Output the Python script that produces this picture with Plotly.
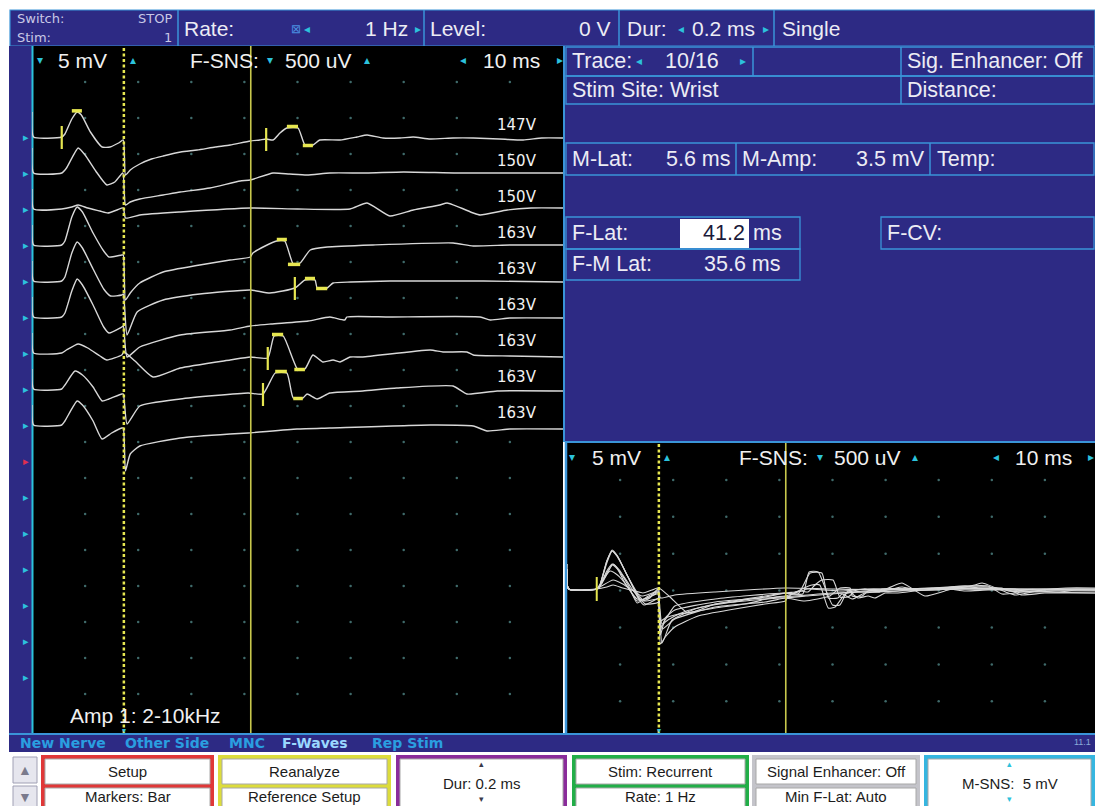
import numpy as np
import plotly.graph_objects as go

W, H = 1095, 806

# ------------------------------------------------------------------ data
STIM_VOLTAGES = ["147V", "150V", "150V", "163V", "163V", "163V", "163V", "163V", "163V"]

# per-trace waveform: time (ms) and displayed amplitude (screen units above own baseline)
T1_T = [0, 0.3, 5.6, 6.2, 7.5, 8.5, 9.3, 11.0, 13.2, 14.7, 16.3, 17.2, 17.6, 18.5, 20.3, 22.5, 24.7, 28.0, 31.1, 34.5,
        37.3, 41.1, 42.9, 44.1, 45.4, 46.7, 48.0, 50.1, 51.4, 52.9, 54.2, 58.0, 61.2, 63.1, 66.1, 69.3, 71.8, 75.0, 79.3, 83.1,
        88.0, 92.5, 96.0, 100]
T1_A = [25, 0, 0, 3, 18, 25, 22, 5, -10, -10, -6, -3, -38, -33, -27, -22, -19, -15, -13, -10,
        -8, -4, -3, -2, -3, 4, 9, 9, -8, -8, -3, -3, 0, 2, -1, -1, 0, -2, -1, -1,
        -2, -3, -1, -1]
T2_T = [0, 0.3, 5.6, 6.5, 8.7, 10.0, 12.0, 14.1, 15.6, 17.1, 17.6, 18.5, 20.3, 24.7, 27.9, 33.5, 39.2, 41.1, 45.4, 48.5,
        51.8, 56.1, 63.0, 70.0, 80.0, 90.0, 100]
T2_A = [25, 0, 0, 5, 25, 18, 2, -12, -9, 0, -32, -29, -26, -22, -19, -15, -8, -7, 0, -1,
        -2, 0, 0, 1, 0, 0, 0]
T3_T = [0, 0.3, 5.6, 7.5, 8.7, 10.5, 12.8, 14.3, 16.0, 17.2, 17.6, 20.3, 27.9, 41.1, 50.0, 59.9, 63.1, 67.4, 71.8, 76.8,
        78.2, 83.1, 84.4, 89.5, 94.0, 100]
T3_A = [20, 0, 0, 2, 4, 1, -2, -4, -1, 1, -9, -6, -3, 1, 0, 0, 6, -7, -1, 4,
        6, -4, -6, -1, 1, 1]
T4_T = [0, 0.3, 5.6, 6.2, 7.5, 8.5, 9.5, 11.5, 13.5, 14.5, 16.9, 17.2, 17.6, 18.5, 20.3, 24.7, 31.6, 37.3, 41.1, 41.6,
        43.9, 46.1, 47.6, 49.2, 50.5, 52.4, 55.6, 64.2, 79.3, 83.1, 90.0, 100]
T4_A = [20, 0, 0, 4, 28, 38, 33, 12, -6, -12, -10, -10, -55, -48, -38, -27, -20, -15, -12, -8,
        -1, 4, 4, -19, -18, -5, -2, 0, 2, -1, 0, 0]
T5_T = [0, 0.3, 5.6, 6.2, 7.5, 8.5, 9.5, 11.5, 13.5, 14.8, 16.9, 17.2, 17.9, 19.8, 24.7, 31.6, 41.1, 44.8, 49.5, 51.4,
        53.3, 53.7, 55.6, 56.7, 60.0, 67.4, 75.0, 85.0, 100]
T5_A = [20, 0, 0, 4, 28, 39, 33, 12, -8, -15, -14, -13, -54, -31, -19, -13, -9, -12, -7, 1,
        1, -7, -7, -2, -1, 0, 0, 0, -1]
T6_T = [0, 0.3, 5.6, 6.2, 7.5, 8.5, 9.5, 11.5, 13.5, 14.5, 16.9, 17.2, 17.9, 20.3, 27.9, 37.3, 41.1, 45.0, 52.0, 56.1,
        58.9, 59.3, 67.4, 84.4, 86.3, 90.0, 100]
T6_A = [20, 0, 0, 4, 26, 38, 32, 12, -10, -16, -10, -9, -40, -30, -18, -13, -9, -7, -4, 0,
        -3, 0, 0, 0, -3, -1, -1]
T7_T = [0, 0.3, 5.6, 6.5, 8.7, 10.5, 12.8, 14.1, 16.9, 17.3, 19.4, 22.8, 27.9, 37.3, 41.1, 44.4, 45.6, 47.3, 50.0, 51.4,
        52.9, 54.8, 56.7, 58.0, 59.9, 62.3, 75.0, 77.4, 81.9, 83.1, 90.0, 100]
T7_A = [20, 0, 0, 3, 9, 5, -3, -7, -2, 1, -8, -24, -15, -7, -4, -5, 17, 17, -16, -16,
        -2, -9, -7, -9, -4, -4, 3, 1, 1, -2, -3, -4]
T8_T = [0, 0.3, 5.6, 6.2, 8.1, 9.5, 11.5, 13.2, 14.5, 16.9, 17.2, 17.9, 20.3, 27.9, 40.7, 43.5, 45.8, 48.0, 49.2, 51.0,
        51.8, 53.7, 56.1, 62.3, 68.7, 79.3, 81.9, 87.6, 100]
T8_A = [20, 0, 0, 4, 18, 14, 2, -12, -10, -5, -5, -35, -17, -10, -4, -5, 16, 16, -9, -9,
        -5, -10, -4, -2, 1, 3, -5, -2, -2]
T9_T = [0, 0.3, 5.6, 6.2, 8.5, 9.5, 11.5, 13.2, 15.0, 16.9, 17.2, 17.6, 18.5, 20.3, 27.9, 37.3, 40.7, 49.9, 56.1, 75.0,
        83.1, 85.7, 90.0, 100]
T9_A = [20, 0, 0, 4, 24, 20, 4, -14, -8, -3, -3, -46, -29, -21, -13, -9, -8, -4, -3, 0,
        -1, -6, -4, -4]

TRACE_T = [T1_T, T2_T, T3_T, T4_T, T5_T, T6_T, T7_T, T8_T, T9_T]
TRACE_A = [T1_A, T2_A, T3_A, T4_A, T5_A, T6_A, T7_A, T8_A, T9_A]

# latency markers: trace index, kind, start/end time (ms)
MARK_TRACE = [0, 0, 0, 0, 0, 3, 3, 4, 4, 4, 6, 6, 6, 7, 7, 7]
MARK_KIND = ["tick", "bar", "tick", "bar", "bar", "bar", "bar", "tick", "bar", "bar",
             "tick", "bar", "bar", "tick", "bar", "bar"]
MARK_T0 = [5.6, 7.5, 44.1, 48.0, 51.0, 46.1, 48.2, 49.5, 51.4, 53.5, 44.4, 45.2, 49.4, 43.5, 45.8, 49.2]
MARK_T1 = [5.6, 9.4, 44.1, 50.1, 52.9, 48.0, 50.5, 49.5, 53.3, 55.6, 44.4, 47.3, 51.4, 43.5, 48.0, 51.0]

M_LAT_MS = 5.6
M_AMP_MV = 3.5
F_LAT_MS = 41.2
FM_LAT_MS = 35.6
CURSOR_MS = 17.3
SWEEP_MS = 100
N_TRACES_TOTAL = 16
CUR_TRACE = 10

# ------------------------------------------------------------------ style
FONT = "Liberation Sans, Arial, sans-serif"
DV = "DejaVu Sans, sans-serif"
BLUE = "#2d2a84"
CELL = "#3a94d8"
TXT = "#ececf4"
CYAN = "#2cc2dc"
TRACE_COL = "#d8d8d8"
YEL = "#e6e650"
OLIVE = "#c8c84c"
DOT = "#3f6a6a"

shapes, annos = [], []


def X(x):
    return x / W


def Y(y):
    return 1 - y / H


def rect(x0, y0, x1, y1, fill=None, line=None, lw=0):
    shapes.append(dict(type="rect", xref="paper", yref="paper", x0=X(x0), x1=X(x1), y0=Y(y1), y1=Y(y0),
                       fillcolor=fill or "rgba(0,0,0,0)",
                       line=dict(color=line or "rgba(0,0,0,0)", width=lw), layer="below"))


def seg(x0, y0, x1, y1, color=CELL, lw=1.5):
    shapes.append(dict(type="line", xref="paper", yref="paper", x0=X(x0), x1=X(x1), y0=Y(y0), y1=Y(y1),
                       line=dict(color=color, width=lw), layer="below"))


def txt(x, y, s, size=20, color=TXT, anchor="left", family=FONT):
    annos.append(dict(x=X(x), y=Y(y), xref="paper", yref="paper", text=s, showarrow=False,
                      xanchor=anchor, yanchor="middle", font=dict(size=size, color=color, family=family)))


# ------------------------------------------------------------------ panels
rect(10, 10, 1095, 46, BLUE, CELL, 1.2)
for xv in [178, 424, 619, 774]:
    seg(xv, 10, xv, 46)
rect(9, 46, 32, 733, BLUE)
rect(32, 46, 563, 733, "#000000")
seg(32.5, 46, 32.5, 733, CYAN, 2)
rect(563, 46, 1095, 442, BLUE)
seg(564, 46, 564, 442, CELL, 2)
# info cells
rect(566, 47, 1094, 76, None, CELL, 1.3)
rect(566, 76, 1094, 104, None, CELL, 1.3)
seg(753, 47, 753, 76)
seg(901, 47, 901, 104)
rect(566, 143, 1094, 175, None, CELL, 1.3)
seg(736, 143, 736, 175)
seg(930, 143, 930, 175)
rect(566, 217, 800, 249, None, CELL, 1.3)
rect(566, 249, 800, 280, None, CELL, 1.3)
rect(680, 219, 749, 248, "#ffffff")
rect(881, 217, 1094, 249, None, CELL, 1.3)
# inset
rect(567, 443, 1095, 733, "#000000")
seg(565, 442, 1095, 442, CELL, 2)
seg(566, 442, 566, 733, CELL, 2.5)
# bottom strip
rect(9, 733, 1095, 752, BLUE)
seg(9, 734, 1095, 734, CELL, 2)

# buttons
rect(13, 757, 37, 783, "#e6e6ee", "#a0a0b4", 1)
rect(13, 786, 37, 812, "#e6e6ee", "#a0a0b4", 1)
txt(25, 770, "▲", 14, "#7a7a8c", "center")
txt(25, 797, "▼", 14, "#7a7a8c", "center")
GROUPS = [(41, 214, "#e03838", ["Setup", "Markers: Bar"]),
          (218, 391, "#dcdc3c", ["Reanalyze", "Reference Setup"]),
          (396, 567, "#8a2c9a", ["Dur: 0.2 ms"]),
          (572, 749, "#22ae48", ["Stim: Recurrent", "Rate: 1 Hz"]),
          (752, 920, "#c4c4ca", ["Signal Enhancer: Off", "Min F-Lat: Auto"]),
          (924, 1095, "#36b6e0", ["M-SNS:  5 mV"])]
for x0, x1, col, labels in GROUPS:
    rect(x0, 755, x1, 812, col)
    cx = (x0 + x1) / 2
    if len(labels) == 2:
        rect(x0 + 4, 759, x1 - 4, 784, "#ffffff", "#a8a8a8", 1)
        rect(x0 + 4, 788, x1 - 4, 812, "#ffffff", "#a8a8a8", 1)
        txt(cx, 771, labels[0], 15, "#1c1c1c", "center")
        txt(cx, 796, labels[1], 15, "#1c1c1c", "center")
    else:
        rect(x0 + 4, 759, x1 - 4, 812, "#ffffff", "#a8a8a8", 1)
        txt(cx, 783, labels[0], 15, "#1c1c1c", "center")
        tc = "#3a3a4a" if col != "#36b6e0" else CYAN
        txt(cx, 764, "▴", 9, tc, "center")
        txt(cx, 799, "▾", 9, tc, "center")

# ------------------------------------------------------------------ texts
# top bar
txt(15, 19, "Switch:", 13, "#c8c8e6", family=DV)
txt(15, 37, "Stim:", 13, "#c8c8e6", family=DV)
txt(174, 19, "STOP", 13, "#c8c8e6", "right", family=DV)
txt(174, 37, "1", 13, "#c8c8e6", "right", family=DV)
txt(182, 29, "Rate:", 21)
txt(296, 29, "⊠", 12, "#4a8ee0", "center")
txt(307, 29, "◂", 12, CYAN, "center")
txt(410, 29, "1 Hz", 21, anchor="right")
txt(418, 29, "▸", 12, CYAN, "center")
txt(428, 29, "Level:", 21)
txt(613, 29, "0 V", 21, anchor="right")
txt(625, 29, "Dur:", 21)
txt(681, 29, "◂", 12, CYAN, "center")
txt(690, 29, "0.2 ms", 21)
txt(766, 29, "▸", 12, CYAN, "center")
txt(780, 29, "Single", 21)

# main header
txt(40, 60, "▾", 12, CYAN, "center")
txt(56, 60, "5 mV", 21, "#f0f0f0")
txt(133, 60, "▴", 12, CYAN, "center")
txt(188, 60, "F-SNS:", 21, "#f0f0f0")
txt(270, 60, "▾", 12, CYAN, "center")
txt(283, 60, "500 uV", 21, "#f0f0f0")
txt(367, 60, "▴", 12, CYAN, "center")
txt(463, 60, "◂", 12, CYAN, "center")
txt(481, 60, "10 ms", 21, "#f0f0f0")
txt(560, 60, "▸", 12, CYAN, "center")
txt(68, 715, "Amp 1: 2-10kHz", 21, "#f0f0f0")

# inset header
txt(572, 457, "▾", 12, CYAN, "center")
txt(590, 457, "5 mV", 21, "#f0f0f0")
txt(667, 457, "▴", 12, CYAN, "center")
txt(737, 457, "F-SNS:", 21, "#f0f0f0")
txt(820, 457, "▾", 12, CYAN, "center")
txt(832, 457, "500 uV", 21, "#f0f0f0")
txt(915, 457, "▴", 12, CYAN, "center")
txt(996, 457, "◂", 12, CYAN, "center")
txt(1013, 457, "10 ms", 21, "#f0f0f0")
txt(1091, 457, "▸", 12, CYAN, "center")

# info panel
RS = 21.5
txt(570, 61, "Trace:", RS)
txt(639, 61, "◂", 12, CYAN, "center")
txt(663, 61, f"{CUR_TRACE}/{N_TRACES_TOTAL}", RS)
txt(743, 61, "▸", 12, CYAN, "center")
txt(905, 61, "Sig. Enhancer: Off", RS)
txt(570, 90, "Stim Site: Wrist", RS)
txt(905, 90, "Distance:", RS)
txt(570, 159, "M-Lat:", RS)
txt(733, 159, f"{M_LAT_MS:.1f} ms", RS, anchor="right")
txt(740, 159, "M-Amp:", RS)
txt(927, 159, f"{M_AMP_MV:.1f} mV", RS, anchor="right")
txt(935, 159, "Temp:", RS)
txt(570, 233, "F-Lat:", RS)
txt(747, 233, f"{F_LAT_MS:.1f}", RS, "#1a1a3a", "right")
txt(751, 233, "ms", RS)
txt(885, 233, "F-CV:", RS)
txt(570, 264, "F-M Lat:", RS)
txt(782, 264, f"{FM_LAT_MS:.1f} ms", RS, anchor="right")

# bottom strip
txt(18, 743, "<b>New Nerve</b>", 14, "#2a9ee0", family=DV)
txt(123, 743, "<b>Other Side</b>", 14, "#2a9ee0", family=DV)
txt(227, 743, "<b>MNC</b>", 14, "#2a9ee0", family=DV)
txt(280, 743, "<b>F-Waves</b>", 14, "#9ad8ff", family=DV)
txt(370, 743, "<b>Rep Stim</b>", 14, "#2a9ee0", family=DV)
txt(1093, 742, "11.1", 9, "#8aaad8", "right")

# trace slot triangles in left column
SLOT = 36
for k in range(N_TRACES_TOTAL):
    col = "#e03050" if k == CUR_TRACE - 1 else CYAN
    txt(26, 137 + SLOT * k, "▸", 11, col, "center")

# ------------------------------------------------------------------ figure
fig = go.Figure()
MAIN_H = 687           # screen units of main panel height
BASE0 = 596            # baseline of first trace
INSET_LO, INSET_HI = -144, 146

# grid dots
gx = np.arange(10, SWEEP_MS, 10)
gy = MAIN_H - SLOT * np.arange(1, 19)
GX, GY = np.meshgrid(gx, gy)
fig.add_trace(go.Scatter(x=GX.ravel(), y=GY.ravel(), xaxis="x", yaxis="y", mode="markers",
                         marker=dict(size=2.5, color=DOT), hoverinfo="skip"))
igy = INSET_HI - 36.9 * np.arange(1, 8)
IGX, IGY = np.meshgrid(gx, igy)
fig.add_trace(go.Scatter(x=IGX.ravel(), y=IGY.ravel(), xaxis="x2", yaxis="y2", mode="markers",
                         marker=dict(size=2.5, color=DOT), hoverinfo="skip"))

# waveforms
for i, (tt, aa) in enumerate(zip(TRACE_T, TRACE_A)):
    base = BASE0 - SLOT * i
    fig.add_trace(go.Scatter(x=tt, y=np.array(aa) + base, xaxis="x", yaxis="y", mode="lines",
                             line=dict(color=TRACE_COL, width=1.4, shape="spline", smoothing=0.5),
                             hoverinfo="skip"))
    fig.add_trace(go.Scatter(x=tt, y=aa, xaxis="x2", yaxis="y2", mode="lines",
                             line=dict(color=TRACE_COL, width=1.1, shape="spline", smoothing=0.5),
                             hoverinfo="skip"))
    annos.append(dict(x=91.4, y=base + 12, xref="x", yref="y", text=STIM_VOLTAGES[i], showarrow=False,
                      xanchor="center", yanchor="middle",
                      font=dict(size=15, color="#f2f2f2", family=DV)))

# cursors
for ax, ay, lo, hi in [("x", "y", 0, MAIN_H), ("x2", "y2", INSET_LO, INSET_HI)]:
    fig.add_trace(go.Scatter(x=[CURSOR_MS, CURSOR_MS], y=[lo, hi], xaxis=ax, yaxis=ay, mode="lines",
                             line=dict(color=YEL, width=2.5, dash="3px,2.5px"), hoverinfo="skip"))
    fig.add_trace(go.Scatter(x=[F_LAT_MS, F_LAT_MS], y=[lo, hi], xaxis=ax, yaxis=ay, mode="lines",
                             line=dict(color=OLIVE, width=1.6), hoverinfo="skip"))
txt(124, 730, "▾", 8, CYAN, "center")
txt(659, 730, "▾", 8, CYAN, "center")

# latency markers
ticks_x, ticks_y, bars_x, bars_y = [], [], [], []
for tr, kind, t0, t1 in zip(MARK_TRACE, MARK_KIND, MARK_T0, MARK_T1):
    base = BASE0 - SLOT * tr
    amp = np.interp((t0 + t1) / 2, TRACE_T[tr], TRACE_A[tr])
    if kind == "tick":
        ticks_x += [t0, t0, None]
        ticks_y += [base + amp + 11, base + amp - 12, None]
    else:
        off = 1.5 if amp > 0 else -0.5
        bars_x += [t0, t1, None]
        bars_y += [base + amp + off, base + amp + off, None]
fig.add_trace(go.Scatter(x=ticks_x, y=ticks_y, xaxis="x", yaxis="y", mode="lines",
                         line=dict(color=YEL, width=2.2), hoverinfo="skip"))
fig.add_trace(go.Scatter(x=bars_x, y=bars_y, xaxis="x", yaxis="y", mode="lines",
                         line=dict(color=YEL, width=3.5), hoverinfo="skip"))
fig.add_trace(go.Scatter(x=[M_LAT_MS, M_LAT_MS], y=[12, -12], xaxis="x2", yaxis="y2", mode="lines",
                         line=dict(color=YEL, width=2), hoverinfo="skip"))

ax_common = dict(visible=False, fixedrange=True, showgrid=False, zeroline=False)
fig.update_layout(
    width=W, height=H, margin=dict(l=0, r=0, t=0, b=0),
    paper_bgcolor="#ffffff", plot_bgcolor="rgba(0,0,0,0)", showlegend=False,
    xaxis=dict(domain=[X(32), X(563)], range=[0, SWEEP_MS], **ax_common),
    yaxis=dict(domain=[Y(733), Y(46)], range=[0, MAIN_H], **ax_common),
    xaxis2=dict(domain=[X(567), 1], range=[0, (W - 567) / 5.31], anchor="y2", **ax_common),
    yaxis2=dict(domain=[Y(733), Y(443)], range=[INSET_LO, INSET_HI], anchor="x2", **ax_common),
    shapes=shapes, annotations=annos, hovermode=False,
)
fig.write_html("out.html", config={"displayModeBar": False},
               post_script="document.body.style.margin='0';document.body.style.overflow='hidden';")
